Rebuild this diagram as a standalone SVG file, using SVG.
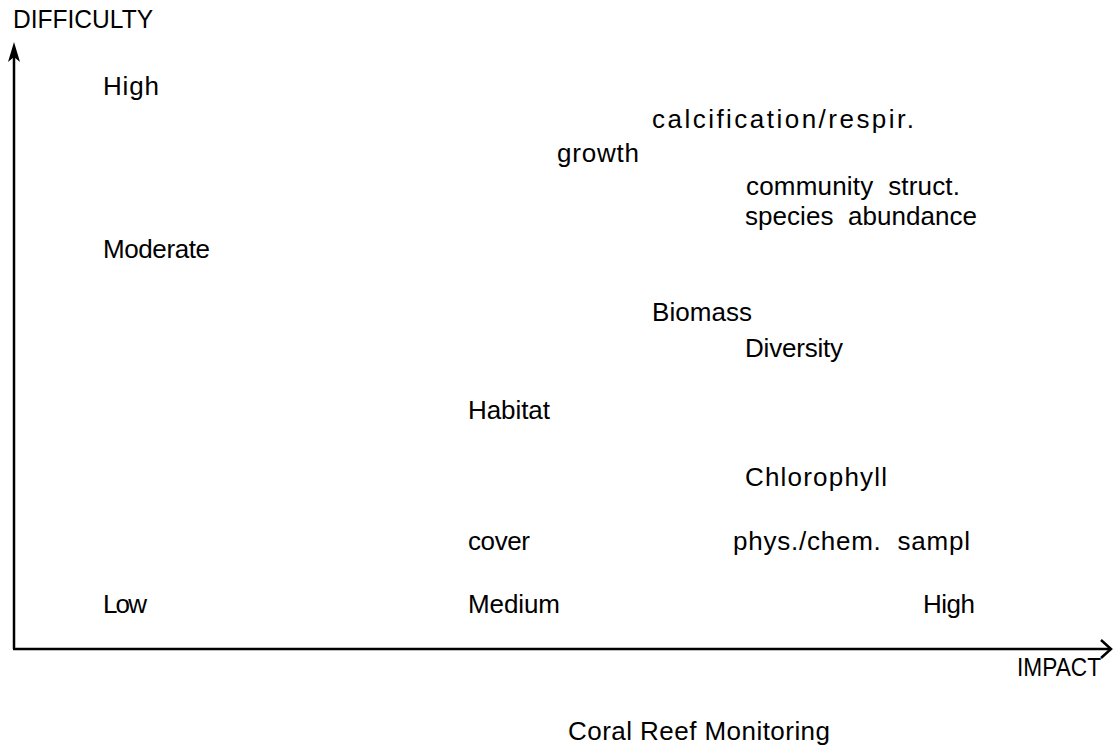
<svg xmlns="http://www.w3.org/2000/svg" width="1114" height="748" viewBox="0 0 1114 748">
<style>
.t{font-family:"Liberation Sans",Arial,sans-serif;font-size:26px;fill:#000}
.ax{stroke:#000;stroke-width:2.5;fill:none}
</style>
<rect width="1114" height="748" fill="#fff"/>
<g id="axes">
<line class="ax" x1="14" y1="52" x2="14" y2="649"/>
<polygon points="14,42 8,62 14,57 20,62" fill="#000"/>
<line class="ax" x1="13" y1="649" x2="1111" y2="649"/>
<polyline class="ax" points="1101,640 1111,649 1101,658"/>
</g>
<g id="axis-labels">
<text class="t" x="13" y="28" font-size="23" textLength="140" lengthAdjust="spacingAndGlyphs">DIFFICULTY</text>
<text class="t" x="1017" y="676" font-size="23" textLength="84" lengthAdjust="spacingAndGlyphs">IMPACT</text>
</g>
<g id="y-levels">
<text class="t" x="103" y="95" textLength="56">High</text>
<text class="t" x="103" y="258" textLength="107">Moderate</text>
<text class="t" x="103" y="613" textLength="44">Low</text>
</g>
<g id="x-levels">
<text class="t" x="468" y="613" textLength="92">Medium</text>
<text class="t" x="923" y="613" textLength="52">High</text>
</g>
<g id="items">
<text class="t" x="652" y="128" textLength="262">calcification/respir.</text>
<text class="t" x="557" y="162" textLength="82">growth</text>
<text class="t" x="746" y="195" textLength="214" xml:space="preserve">community  struct.</text>
<text class="t" x="745" y="225" textLength="232" xml:space="preserve">species  abundance</text>
<text class="t" x="652" y="321" textLength="100">Biomass</text>
<text class="t" x="745" y="357" textLength="98">Diversity</text>
<text class="t" x="468" y="419" textLength="82">Habitat</text>
<text class="t" x="745" y="486" textLength="142">Chlorophyll</text>
<text class="t" x="468" y="550" textLength="62">cover</text>
<text class="t" x="733" y="550" textLength="237" xml:space="preserve">phys./chem.  sampl</text>
</g>
<g id="caption">
<text class="t" x="568" y="740" textLength="262">Coral Reef Monitoring</text>
</g>
</svg>
